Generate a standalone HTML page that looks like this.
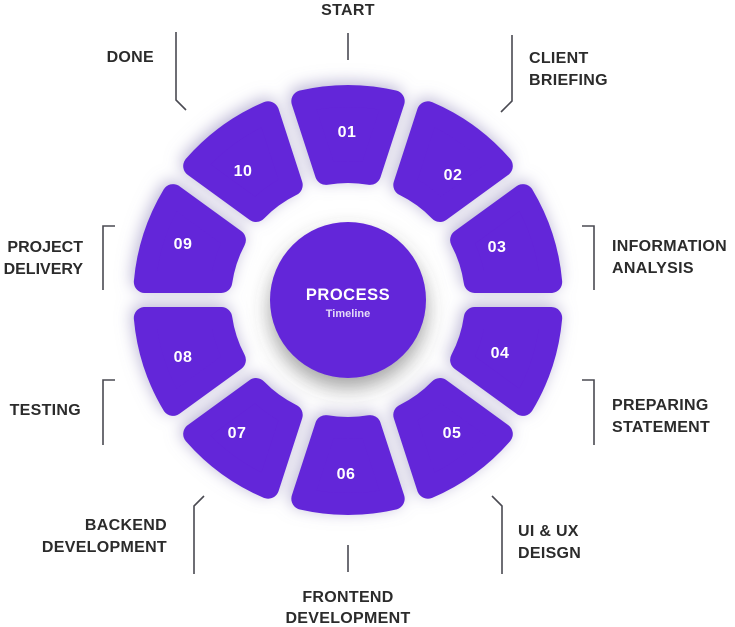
<!DOCTYPE html>
<html><head><meta charset="utf-8"><style>
html,body{margin:0;padding:0;background:#fff;}
svg{display:block;}
.lb{font-family:"Liberation Sans",sans-serif;font-weight:bold;font-size:16px;letter-spacing:0.3px;fill:#2b2b2b;}
.n{font-family:"Liberation Sans",sans-serif;font-weight:bold;font-size:16px;letter-spacing:0.5px;fill:#fff;}
.ln{stroke:#4a4a52;stroke-width:1.6;fill:none;}
</style></head><body>
<svg width="735" height="627" viewBox="0 0 735 627">
<defs>
<filter id="sh" x="-50%" y="-50%" width="200%" height="200%">
<feDropShadow dx="-2" dy="-3" stdDeviation="8" flood-color="#8c84b8" flood-opacity="0.6"/>
</filter>
<filter id="cs" x="-50%" y="-50%" width="200%" height="200%">
<feDropShadow dx="0" dy="10" stdDeviation="10" flood-color="#444" flood-opacity="0.5"/>
</filter>
<path id="seg" d="M -45.7 -198.8 A 204 204 0 0 1 45.7 -198.8 L 22.05 -126.1 A 128 128 0 0 0 -22.05 -126.1 Z" fill="#6425d9" stroke="#6425d9" stroke-width="22" stroke-linejoin="round"/>
</defs>
<g transform="translate(348,300)" filter="url(#sh)">
<use href="#seg" transform="rotate(0)"/>
<use href="#seg" transform="rotate(36)"/>
<use href="#seg" transform="rotate(72)"/>
<use href="#seg" transform="rotate(108)"/>
<use href="#seg" transform="rotate(144)"/>
<use href="#seg" transform="rotate(180)"/>
<use href="#seg" transform="rotate(216)"/>
<use href="#seg" transform="rotate(252)"/>
<use href="#seg" transform="rotate(288)"/>
<use href="#seg" transform="rotate(324)"/>
</g>
<circle cx="348" cy="300" r="78" fill="#6425d9" filter="url(#cs)"/>
<text class="n" x="348" y="300" text-anchor="middle" style="font-size:16.5px">PROCESS</text>
<text class="n" x="348" y="317" text-anchor="middle" style="font-size:11px;fill:#e4dcf7;letter-spacing:0">Timeline</text>
<g text-anchor="middle">
<text class="n" x="347" y="137">01</text>
<text class="n" x="453" y="180">02</text>
<text class="n" x="497" y="252">03</text>
<text class="n" x="500" y="358">04</text>
<text class="n" x="452" y="438">05</text>
<text class="n" x="346" y="479">06</text>
<text class="n" x="237" y="438">07</text>
<text class="n" x="183" y="362">08</text>
<text class="n" x="183" y="249">09</text>
<text class="n" x="243" y="176">10</text>
</g>
<path class="ln" d="M348 33 V60"/>
<path class="ln" d="M512 35 V101 L501 112"/>
<path class="ln" d="M582 226 H594 V290"/>
<path class="ln" d="M582 380 H594 V445"/>
<path class="ln" d="M492 496 L502 506 V574"/>
<path class="ln" d="M348 545 V572"/>
<path class="ln" d="M204 496 L194 506 V574"/>
<path class="ln" d="M115 380 H103 V445"/>
<path class="ln" d="M115 226 H103 V290"/>
<path class="ln" d="M176 32 V100 L186 110"/>
<text class="lb" x="348" y="15" text-anchor="middle">START</text>
<text class="lb" x="529" y="63">CLIENT</text>
<text class="lb" x="529" y="85">BRIEFING</text>
<text class="lb" x="612" y="251">INFORMATION</text>
<text class="lb" x="612" y="273">ANALYSIS</text>
<text class="lb" x="612" y="410">PREPARING</text>
<text class="lb" x="612" y="432">STATEMENT</text>
<text class="lb" x="518" y="536">UI &amp; UX</text>
<text class="lb" x="518" y="558">DEISGN</text>
<text class="lb" x="348" y="602" text-anchor="middle">FRONTEND</text>
<text class="lb" x="348" y="623" text-anchor="middle">DEVELOPMENT</text>
<text class="lb" x="167" y="530" text-anchor="end">BACKEND</text>
<text class="lb" x="167" y="552" text-anchor="end">DEVELOPMENT</text>
<text class="lb" x="81" y="415" text-anchor="end">TESTING</text>
<text class="lb" x="83" y="252" text-anchor="end" style="letter-spacing:0">PROJECT</text>
<text class="lb" x="83" y="274" text-anchor="end" style="letter-spacing:0">DELIVERY</text>
<text class="lb" x="154" y="62" text-anchor="end">DONE</text>
</svg>
</body></html>
